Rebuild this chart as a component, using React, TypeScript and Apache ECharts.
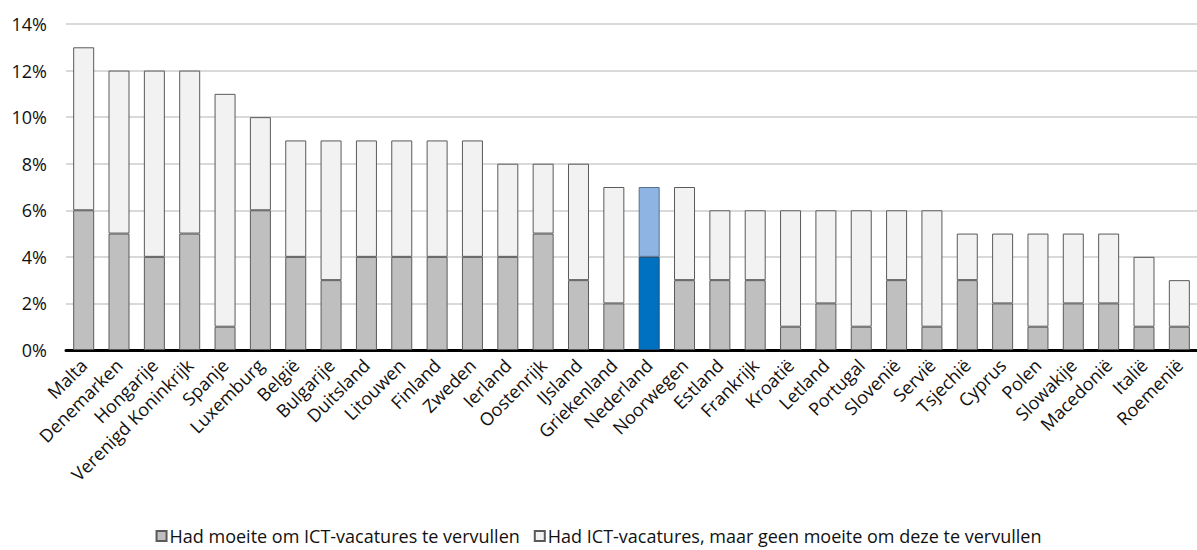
import React, { useEffect, useRef } from "react";
import * as echarts from "echarts";

const categories = [
  "Malta", "Denemarken", "Hongarije", "Verenigd Koninkrijk", "Spanje", "Luxemburg",
  "België", "Bulgarije", "Duitsland", "Litouwen", "Finland", "Zweden", "Ierland",
  "Oostenrijk", "IJsland", "Griekenland", "Nederland", "Noorwegen", "Estland",
  "Frankrijk", "Kroatië", "Letland", "Portugal", "Slovenië", "Servië", "Tsjechië",
  "Cyprus", "Polen", "Slowakije", "Macedonië", "Italië", "Roemenië",
];

// Percentage of companies that had difficulty filling ICT vacancies
const moeite = [6, 5, 4, 5, 1, 6, 4, 3, 4, 4, 4, 4, 4, 5, 3, 2, 4, 3, 3, 3, 1, 2, 1, 3, 1, 3, 2, 1, 2, 2, 1, 1];
// Percentage with ICT vacancies but no difficulty
const geenMoeite = [7, 7, 8, 7, 10, 4, 5, 6, 5, 5, 5, 5, 4, 3, 5, 5, 3, 4, 3, 3, 5, 4, 5, 3, 5, 2, 3, 4, 3, 3, 3, 2];

const yTicks = [0, 2, 4, 6, 8, 10, 12, 14];
const highlight = "Nederland";

const seriesNames = [
  "Had moeite om ICT-vacatures te vervullen",
  "Had ICT-vacatures, maar geen moeite om deze te vervullen",
];

const FONT = "'Open Sans', sans-serif";

export default function App() {
  const ref = useRef<HTMLDivElement>(null);
  useEffect(() => {
    if (!ref.current) return;
    const chart = echarts.init(ref.current, undefined, { renderer: "svg" });
    const border = { borderColor: "#5a5a5a", borderWidth: 1 };
    chart.setOption({
      animation: false,
      grid: { left: 66, right: -11, top: 24, bottom: 200, containLabel: false },
      legend: {
        bottom: 0,
        left: "center",
        itemWidth: 10,
        itemHeight: 10,
        itemGap: 14,
        icon: "rect",
        textStyle: { fontFamily: FONT, fontSize: 18, color: "#111", padding: [0, 0, 0, -2] },
        data: seriesNames,
      },
      xAxis: {
        type: "category",
        data: categories,
        axisLine: { lineStyle: { color: "#000", width: 3 } },
        axisTick: { show: false },
        axisLabel: {
          rotate: 45,
          interval: 0,
          margin: 12,
          fontFamily: FONT,
          fontSize: 18,
          color: "#111",
        },
      },
      yAxis: {
        type: "value",
        min: 0,
        max: 14,
        interval: 2,
        axisLine: { show: false },
        axisTick: { show: false },
        splitLine: { lineStyle: { color: "#d9d9d9", width: 2 } },
        axisLabel: {
          formatter: (v: number) => (yTicks.includes(v) ? v + "%" : ""),
          fontFamily: FONT,
          fontSize: 18,
          color: "#111",
          margin: 19,
        },
      },
      series: [
        {
          name: seriesNames[0],
          type: "bar",
          stack: "total",
          barWidth: 21,
          itemStyle: { color: "#bfbfbf", ...border },
          data: moeite.map((v, i) =>
            categories[i] === highlight
              ? { value: v, itemStyle: { color: "#0070c0", borderColor: "#1f4e79", borderWidth: 1 } }
              : v
          ),
        },
        {
          name: seriesNames[1],
          type: "bar",
          stack: "total",
          barWidth: 21,
          itemStyle: { color: "#f2f2f2", ...border },
          data: geenMoeite.map((v, i) =>
            categories[i] === highlight
              ? { value: v, itemStyle: { color: "#8db4e2", borderColor: "#5a6f8a", borderWidth: 1 } }
              : v
          ),
        },
      ],
    });
    return () => chart.dispose();
  }, []);
  return (
    <div style={{ position: "absolute", left: 0, top: 0, width: 1197, height: 550, overflow: "hidden", background: "#fff" }}>
      <div ref={ref} style={{ width: 1197, height: 550 }} />
    </div>
  );
}
